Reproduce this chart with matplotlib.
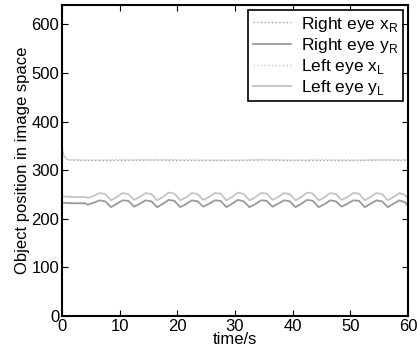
import matplotlib
matplotlib.use("Agg")
import matplotlib.pyplot as plt

plt.rcParams['font.family'] = ['Liberation Sans', 'DejaVu Sans']
plt.rcParams['mathtext.fontset'] = 'custom'
plt.rcParams['mathtext.rm'] = 'Liberation Sans'

# eye x positions (nearly constant)
t_x = [0, 0.3, 1, 5, 10, 15, 20, 25, 30, 35, 40, 45, 50, 55, 60]
x_right = [352, 330, 321, 320, 320, 321, 320, 320, 320, 321, 320, 320, 320, 321, 320]
x_left = [348, 328, 322, 321, 322, 321, 322, 321, 321, 322, 321, 322, 321, 321, 322]

# eye y positions (oscillating)
t_y = [0, 2, 4, 4.5, 5.5, 6.5, 7.5, 8.5, 9.5, 10.5, 11.5, 12.5, 13.5, 14.5, 15.5,
       16.5, 17.5, 18.5, 19.5, 20.5, 21.5, 22.5, 23.5, 24.5, 25.5, 26.5, 27.5,
       28.5, 29.5, 30.5, 31.5, 32.5, 33.5, 34.5, 35.5, 36.5, 37.5, 38.5, 39.5,
       40.5, 41.5, 42.5, 43.5, 44.5, 45.5, 46.5, 47.5, 48.5, 49.5, 50.5, 51.5,
       52.5, 53.5, 54.5, 55.5, 56.5, 57.5, 58.5, 59.5, 60]
y_right = [233, 232, 232, 229, 233, 238, 236, 224, 231, 238, 237, 225, 231, 238,
           236, 224, 231, 239, 237, 224, 230, 238, 236, 225, 231, 238, 237, 224,
           231, 239, 236, 224, 230, 238, 237, 225, 231, 238, 236, 224, 231, 239,
           237, 224, 230, 238, 236, 225, 231, 238, 237, 224, 231, 238, 236, 224,
           231, 238, 234, 226]
y_left = [246, 245, 245, 243, 247, 253, 251, 238, 245, 253, 251, 239, 245, 253,
          251, 238, 245, 254, 252, 238, 244, 253, 251, 239, 245, 253, 252, 238,
          245, 254, 251, 238, 244, 253, 252, 239, 245, 253, 251, 238, 245, 254,
          252, 238, 244, 253, 251, 239, 245, 253, 252, 238, 245, 253, 251, 238,
          245, 253, 249, 240]

fig = plt.figure(figsize=(4.17, 3.55), dpi=100)
ax = fig.add_axes([62 / 417, 1 - 316 / 355, 346 / 417, 311 / 355])

ax.plot(t_x, x_right, linestyle=':', color='#a0a0a0', linewidth=1.0, label=r'Right eye x$_\mathregular{R}$')
ax.plot(t_y, y_right, linestyle='-', color='#9a9a9a', linewidth=1.3, label=r'Right eye y$_\mathregular{R}$')
ax.plot(t_x, x_left, linestyle=':', color='#c8c8c8', linewidth=1.0, label=r'Left eye x$_\mathregular{L}$')
ax.plot(t_y, y_left, linestyle='-', color='#c4c4c4', linewidth=1.3, label=r'Left eye y$_\mathregular{L}$')

ax.set_xlim(0, 60)
ax.set_ylim(0, 640)
ax.set_xticks([0, 10, 20, 30, 40, 50, 60])
ax.set_yticks([0, 100, 200, 300, 400, 500, 600])
ax.tick_params(direction='in', top=True, right=True, labelsize=12, length=4, width=0.8, pad=2)
for s in ax.spines.values():
    s.set_linewidth(1.5)

ax.set_xlabel('time/s', fontsize=12, labelpad=-1)
ax.set_ylabel('Object position in image space', fontsize=12, labelpad=1)

leg = ax.legend(loc='upper right', fontsize=12.5, fancybox=False, framealpha=1,
                edgecolor='black', borderaxespad=0.3, handlelength=2.2,
                labelspacing=0.12, borderpad=0.25, handletextpad=0.6)
leg.get_frame().set_linewidth(1.2)

fig.savefig('out.png', dpi=100)
